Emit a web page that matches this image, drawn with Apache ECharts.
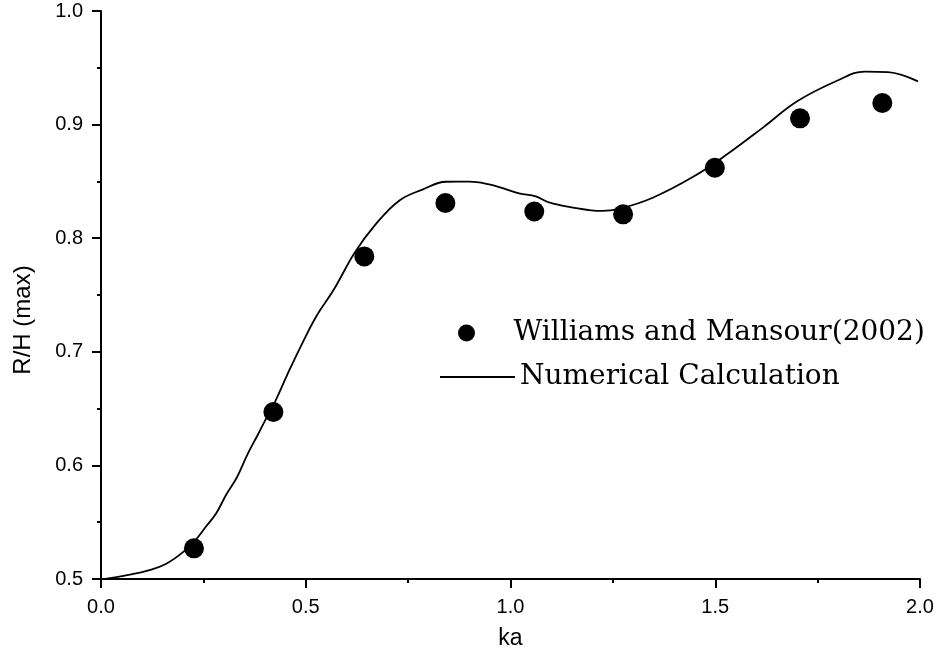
<!DOCTYPE html>
<html>
<head>
<meta charset="utf-8">
<script src="https://cdn.jsdelivr.net/npm/echarts@6/dist/echarts.min.js"></script>
<style>
  html, body { margin: 0; padding: 0; background: #fff; }
  #chart { width: 944px; height: 657px; }
</style>
</head>
<body>
<div id="chart"></div>
<script>
'use strict';
// 实验点 Williams and Mansour(2002)
var expKa = [0.227, 0.421, 0.643, 0.841, 1.058, 1.275, 1.499, 1.707, 1.908];
var expRH = [0.527, 0.647, 0.784, 0.831, 0.8235, 0.821, 0.862, 0.9055, 0.919];

// 数值计算曲线
var numKa = [0.01, 0.067, 0.116, 0.157, 0.198, 0.231, 0.256, 0.281, 0.307, 0.332,
	0.358, 0.383, 0.400, 0.425, 0.455, 0.493, 0.527, 0.569, 0.619, 0.669,
	0.728, 0.785, 0.842, 0.900, 0.948, 0.981, 1.021, 1.062, 1.094, 1.143,
	1.224, 1.265, 1.346, 1.445, 1.528, 1.618, 1.701, 1.800, 1.865, 1.922, 1.995];
var numRH = [0.500, 0.5036, 0.5076, 0.513, 0.523, 0.5345, 0.546, 0.5577, 0.575, 0.5896,
	0.610, 0.627, 0.639, 0.656, 0.680, 0.7086, 0.732, 0.755, 0.787, 0.8115,
	0.833, 0.8428, 0.8497, 0.8498, 0.8474, 0.844, 0.8395, 0.8368, 0.8315, 0.8276,
	0.824, 0.8258, 0.8354, 0.8538, 0.8736, 0.8978, 0.9207, 0.939, 0.9467, 0.9462, 0.938];

var expName = 'Williams and Mansour(2002)';
var numName = 'Numerical Calculation';

function zip(xs, ys) {
	var out = [];
	for (var i = 0; i < xs.length; i++) {
		out.push([xs[i], ys[i]]);
	}
	return out;
}

var chart = echarts.init(document.getElementById('chart'));

var legendFont = {
	fontFamily: 'DejaVu Serif',
	fontSize: 28,
	color: '#000'
};

function axisLabelStyle() {
	return {
		margin: 18,
		fontFamily: 'Liberation Sans',
		fontSize: 20,
		color: '#000',
		formatter: function (v) { return v.toFixed(1); }
	};
}

var option = {
	animation: false,
	backgroundColor: '#fff',
	grid: {
		left: 101,
		right: 24,
		top: 11,
		bottom: 78
	},
	legend: [
		{
			data: [{ name: expName, icon: 'circle' }],
			left: 453,
			top: 314,
			itemWidth: 84,
			itemHeight: 17,
			selectedMode: false,
			itemStyle: { color: '#000', opacity: 1 },
			textStyle: legendFont
		},
		{
			data: [{ name: numName, icon: 'rect' }],
			left: 435,
			top: 358,
			itemWidth: 75,
			itemHeight: 2,
			selectedMode: false,
			itemStyle: { color: '#000', opacity: 1 },
			textStyle: legendFont
		}
	],
	xAxis: {
		type: 'value',
		min: 0,
		max: 2,
		interval: 0.5,
		name: 'ka',
		nameLocation: 'middle',
		nameGap: 48,
		nameTextStyle: {
			fontFamily: 'Liberation Sans',
			fontSize: 23,
			color: '#000'
		},
		axisLine: { show: true, lineStyle: { color: '#000', width: 2 } },
		axisTick: { show: true, inside: false, length: 9, lineStyle: { color: '#000', width: 2 } },
		minorTick: { show: true, splitNumber: 2, length: 4, lineStyle: { color: '#000', width: 2 } },
		splitLine: { show: false },
		axisLabel: axisLabelStyle()
	},
	yAxis: {
		type: 'value',
		min: 0.5,
		max: 1.0,
		interval: 0.1,
		name: 'R/H (max)',
		nameLocation: 'middle',
		nameGap: 66,
		nameTextStyle: {
			fontFamily: 'Liberation Sans',
			fontSize: 24,
			color: '#000',
			padding: [0, 50, 0, 0]
		},
		axisLine: { show: true, lineStyle: { color: '#000', width: 2 } },
		axisTick: { show: true, inside: false, length: 9, lineStyle: { color: '#000', width: 2 } },
		minorTick: { show: true, splitNumber: 2, length: 4, lineStyle: { color: '#000', width: 2 } },
		splitLine: { show: false },
		axisLabel: axisLabelStyle()
	},
	series: [
		{
			name: numName,
			type: 'line',
			smooth: 0.4,
			symbol: 'none',
			lineStyle: { color: '#000', width: 1.8 },
			itemStyle: { color: '#000' },
			data: zip(numKa, numRH),
			z: 2
		},
		{
			name: expName,
			type: 'scatter',
			symbol: 'circle',
			symbolSize: 20,
			itemStyle: { color: '#000', opacity: 1 },
			data: zip(expKa, expRH),
			z: 3
		}
	]
};

chart.setOption(option);
</script>
</body>
</html>
